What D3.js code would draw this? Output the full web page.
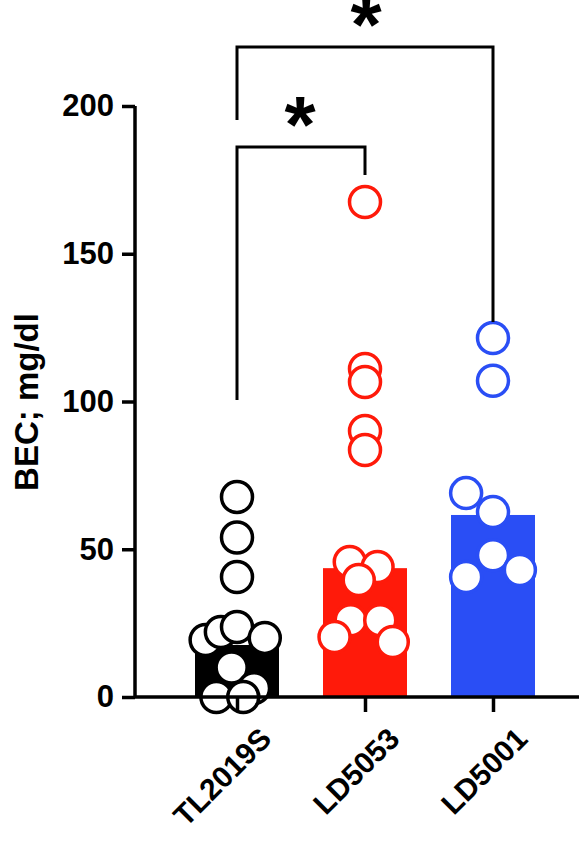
<!DOCTYPE html>
<html>
<head>
<style>
  body { margin: 0; background: #fff; font-family: Arial, "Liberation Sans", sans-serif; }
</style>
</head>
<body>
<svg id="chart"></svg>
<script src="https://d3js.org/d3.v7.min.js"></script>
<script>
  const groups = ["TL2019S", "LD5053", "LD5001"];
  const colors = ["#000000", "#ff1a0a", "#2a4ef5"];
  const means = [17.6, 43.6, 61.6];
  const yTicks = [0, 50, 100, 150, 200];
  // points: [group index, x jitter (in band fraction), value]
  const tlPoints = [[0, 0, 67.7], [0, 0, 54], [0, 0, 40.6], [0, -0.35, 19.3], [0, -0.18, 22], [0, 0, 23.7],
    [0, 0.31, 20], [0, -0.06, 10], [0, -0.23, 0], [0, 0.19, 3], [0, 0.07, 0]];
  const ldaPoints = [[1, 0, 167.5], [1, 0, 111], [1, 0, 106.6], [1, 0, 90], [1, 0, 83.6], [1, -0.17, 45.7],
    [1, 0.14, 44], [1, -0.07, 39.6], [1, -0.16, 26], [1, 0.17, 26], [1, -0.34, 20.3], [1, 0.31, 18.6]];
  const ldbPoints = [[2, 0, 121.5], [2, 0, 107], [2, -0.3, 69], [2, 0, 62.6], [2, 0, 48], [2, -0.3, 40.6], [2, 0.3, 43]];
  const brackets = [[0, 1, 147, 400, 175, "*"], [0, 2, 47, 120, 322, "*"]];

  const width = 579, height = 868;
  const svg = d3.select("#chart").attr("width", width).attr("height", height);

  const x = d3.scalePoint().domain(groups).range([237, 493]);
  const y = d3.scaleLinear().domain([0, 200]).range([697, 106]);
  const step = x.step();
  const barW = 84;

  svg.append("g").selectAll("rect").data(groups).join("rect")
    .attr("x", d => x(d) - barW / 2).attr("width", barW)
    .attr("y", (d, i) => y(means[i])).attr("height", (d, i) => y(0) - y(means[i]))
    .attr("fill", (d, i) => colors[i]);

  const pts = [...tlPoints, ...ldaPoints, ...ldbPoints];
  svg.append("g").selectAll("circle").data(pts).join("circle")
    .attr("cx", d => x(groups[d[0]]) + d[1] * step * 0.7)
    .attr("cy", d => y(d[2]))
    .attr("r", 15.5)
    .attr("fill", "#fff")
    .attr("stroke", d => colors[d[0]])
    .attr("stroke-width", 3.5);

  const font = "Arial, Liberation Sans, sans-serif";

  // y axis
  const yAxis = svg.append("g").attr("transform", "translate(135,0)")
    .call(d3.axisLeft(y).tickValues(yTicks).tickSize(13).tickPadding(8));
  yAxis.select(".domain").attr("stroke-width", 3.5).attr("d", "M0,697V106");
  yAxis.selectAll(".tick line").attr("stroke-width", 3.5);
  yAxis.selectAll("text").attr("font-size", 31).attr("font-weight", "bold").attr("fill", "#000")
    .attr("font-family", font);

  // x axis
  const xAxis = svg.append("g").attr("transform", "translate(0,697)")
    .call(d3.axisBottom(x).tickSize(15).tickPadding(8));
  xAxis.select(".domain").attr("stroke-width", 3.5).attr("d", "M135,0H579");
  xAxis.selectAll(".tick line").attr("stroke-width", 3.5);
  xAxis.selectAll("text").attr("font-size", 30).attr("font-weight", "bold").attr("fill", "#000")
    .attr("font-family", font)
    .attr("text-anchor", "end").attr("dy", "0.35em")
    .attr("transform", "translate(12,20) rotate(-45)");

  svg.append("text")
    .attr("transform", "translate(38,402) rotate(-90)")
    .attr("text-anchor", "middle")
    .attr("font-size", 33).attr("font-weight", "bold")
    .text("BEC; mg/dl");

  // significance brackets
  brackets.forEach(([a, b, top, lb, rb, lab]) => {
    const x1 = x(groups[a]), x2 = x(groups[b]);
    svg.append("path")
      .attr("d", `M${x1},${lb}V${top}H${x2}V${rb}`)
      .attr("fill", "none").attr("stroke", "#000").attr("stroke-width", 3);
    svg.append("text")
      .attr("x", b === 1 ? 300 : (x1 + x2) / 2 + 1).attr("y", top + 5)
      .attr("text-anchor", "middle").attr("font-size", 80).attr("font-weight", "bold")
      .text(lab);
  });
</script>
</body>
</html>
